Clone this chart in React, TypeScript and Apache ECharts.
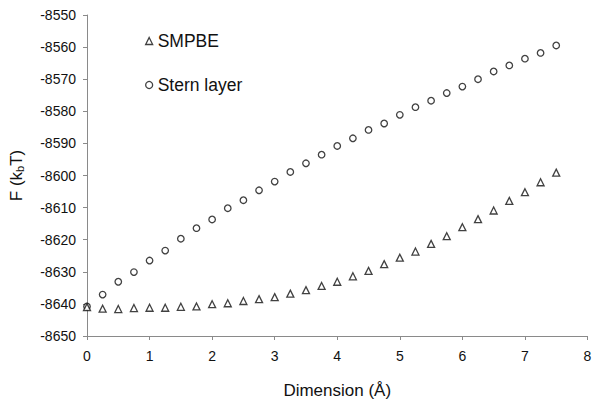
import React, { useEffect, useRef } from "react";
import * as echarts from "echarts";

const dimensions = [0, 0.25, 0.5, 0.75, 1, 1.25, 1.5, 1.75, 2, 2.25, 2.5, 2.75, 3, 3.25, 3.5, 3.75, 4, 4.25, 4.5, 4.75, 5, 5.25, 5.5, 5.75, 6, 6.25, 6.5, 6.75, 7, 7.25, 7.5];

const smpbe = [-8641, -8641.5, -8641.6, -8641.3, -8641.2, -8641.2, -8640.9, -8640.8, -8640.1, -8639.8, -8639.1, -8638.5, -8637.9, -8636.8, -8635.7, -8634.4, -8633.1, -8631.4, -8629.7, -8627.6, -8625.6, -8623.7, -8621.3, -8618.9, -8616.1, -8613.6, -8610.9, -8607.9, -8605.2, -8602.1, -8599.1];

const sternLayer = [-8640.8, -8637.1, -8633.1, -8630.1, -8626.5, -8623.4, -8619.7, -8616.4, -8613.7, -8610.2, -8607.7, -8604.6, -8601.9, -8598.9, -8596.2, -8593.5, -8590.8, -8588.4, -8585.8, -8583.8, -8581.1, -8578.7, -8576.7, -8574.3, -8572.3, -8570, -8567.6, -8565.7, -8563.6, -8561.8, -8559.5];

const seriesNames = ["SMPBE", "Stern layer"];
const xName = "Dimension (Å)";

const FONT = "'Liberation Sans', Arial, sans-serif";

export default function App() {
  const ref = useRef<HTMLDivElement>(null);
  useEffect(() => {
    if (!ref.current) return;
    const chart = echarts.init(ref.current, undefined, { renderer: "svg" });
    const pair = (ys: number[]) => dimensions.map((x, i) => [x, ys[i]]);
    const hollow = { color: "#ffffff", borderColor: "#111111", borderWidth: 1.3 };
    chart.setOption({
      animation: false,
      backgroundColor: "#ffffff",
      textStyle: { fontFamily: FONT },
      grid: { left: 84.5, right: 12.5, top: 15, bottom: 66, containLabel: false },
      legend: {
        orient: "vertical",
        left: 140,
        top: 27,
        itemWidth: 7,
        itemHeight: 7,
        itemGap: 26,
        textStyle: { fontSize: 17.5, color: "#111", fontFamily: FONT },
        data: [
          { name: seriesNames[0], icon: "triangle", itemStyle: hollow },
          { name: seriesNames[1], icon: "circle", itemStyle: hollow },
        ],
      },
      xAxis: {
        type: "value",
        min: 0,
        max: 8,
        interval: 1,
        name: xName,
        nameLocation: "middle",
        nameGap: 46,
        nameTextStyle: { fontSize: 17, color: "#111", fontFamily: FONT },
        axisLine: { lineStyle: { color: "#8a8a8a", width: 1 } },
        axisTick: { show: true, length: 4, lineStyle: { color: "#8a8a8a" } },
        axisLabel: { fontSize: 14, color: "#111", margin: 13, fontFamily: FONT },
        splitLine: { show: false },
      },
      yAxis: {
        type: "value",
        min: -8650,
        max: -8550,
        interval: 10,
        name: "{a|F (k}{b|b}{a|T)}",
        nameLocation: "middle",
        nameGap: 62,
        nameRotate: 90,
        nameTextStyle: {
          color: "#111",
          fontFamily: FONT,
          rich: {
            a: { fontSize: 17, color: "#111", fontFamily: FONT, verticalAlign: "bottom", lineHeight: 24 },
            b: { fontSize: 11, color: "#111", fontFamily: FONT, verticalAlign: "bottom", lineHeight: 12 },
          },
        },
        axisLine: { show: true, lineStyle: { color: "#8a8a8a", width: 1 } },
        axisTick: { show: true, length: 4, lineStyle: { color: "#8a8a8a" } },
        axisLabel: {
          fontSize: 14,
          color: "#111",
          margin: 11,
          fontFamily: FONT,
          formatter: (v: number) => String(v),
        },
        splitLine: { show: false },
      },
      series: [
        {
          name: seriesNames[0],
          type: "scatter",
          symbol: "triangle",
          symbolSize: 7,
          itemStyle: hollow,
          data: pair(smpbe),
          z: 3,
        },
        {
          name: seriesNames[1],
          type: "scatter",
          symbol: "circle",
          symbolSize: 6.5,
          itemStyle: hollow,
          data: pair(sternLayer),
          z: 2,
        },
      ],
    });
    return () => chart.dispose();
  }, []);
  return <div ref={ref} style={{ width: 600, height: 404, position: "absolute", left: 0, top: 0 }} />;
}
